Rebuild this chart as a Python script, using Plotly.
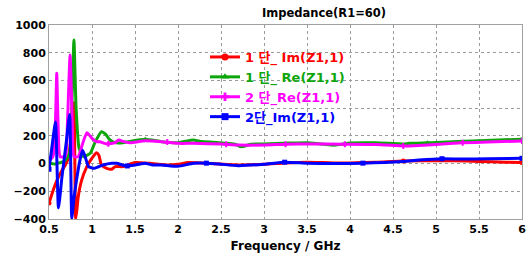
import plotly.graph_objects as go

# ---------------- data ----------------
red_f = [0.5, 0.55, 0.6, 0.65, 0.69, 0.72, 0.75, 0.775, 0.79, 0.80, 0.81, 0.825, 0.84, 0.88, 0.94,
         1.0, 1.05, 1.08, 1.11, 1.17, 1.23, 1.27, 1.36, 1.5, 1.67, 1.89, 2.0, 2.12, 2.4, 2.7, 3.0,
         3.25, 3.5, 3.8, 4.0, 4.3, 4.62, 4.9, 5.2, 5.5, 5.8, 6.0]
red_v = [-285, -190, -110, -50, -10, 30, 150, 350, 440, 50, -400, -330, -239, -120, -22,
         39, 78, 60, -10, -34, -41, -22, -22, 7, 2, -10, -5, 7, 0, -10, -5,
         5, 10, 5, 5, 10, 19, 20, 21, 15, 10, 7]

green_f = [0.5, 0.57, 0.62, 0.67, 0.72, 0.74, 0.765, 0.79, 0.815, 0.85, 0.9, 0.98, 1.04, 1.11,
           1.16, 1.21, 1.27, 1.36, 1.42, 1.62, 1.81, 2.0, 2.18, 2.25, 2.52, 2.66, 2.74, 2.85,
           2.99, 3.3, 3.5, 3.81, 4.0, 4.3, 4.62, 4.69, 4.9, 5.0, 5.5, 6.0]
green_v = [2, -3, 5, 14, 50, 75, 400, 892, 400, 110, 50, 75, 160, 230,
           210, 170, 151, 151, 158, 175, 158, 151, 170, 161, 148, 140, 122, 140,
           141, 148, 151, 134, 148, 150, 141, 146, 150, 152, 165, 176]

mag_f = [0.5, 0.53, 0.55, 0.575, 0.59, 0.605, 0.63, 0.69, 0.715, 0.745, 0.77, 0.79, 0.84, 0.88,
         0.94, 1.0, 1.05, 1.09, 1.17, 1.27, 1.31, 1.36, 1.44, 1.62, 1.81, 2.0, 2.18, 2.5, 2.7,
         3.0, 3.26, 3.5, 3.94, 4.3, 4.62, 4.69, 5.0, 5.31, 5.6, 6.0]
mag_v = [31, 38, 60, 300, 651, 300, 50, 50, 300, 784, 300, 50, 50, 122,
         223, 182, 158, 158, 141, 151, 170, 160, 151, 165, 158, 146, 146, 141, 134,
         134, 140, 141, 140, 138, 127, 127, 138, 150, 155, 163]

blue_f = [0.5, 0.53, 0.575, 0.61, 0.65, 0.7, 0.74, 0.765, 0.79, 0.82, 0.86, 0.89, 0.92, 0.96,
          1.03, 1.13, 1.23, 1.29, 1.35, 1.42, 1.56, 1.62, 1.7, 1.81, 2.0, 2.18, 2.33, 2.5, 2.7,
          3.0, 3.24, 3.5, 3.8, 4.15, 4.4, 4.62, 4.8, 5.07, 5.3, 5.6, 6.0]
blue_v = [-41, 100, 300, -320, -100, 150, 355, -395, -250, -119, 25, 96, 50, -22,
          -34, -10, 2, 2, -10, -17, -3, 2, -10, -10, -20, 2, 3, -5, -15,
          -5, 10, 3, 0, 3, 8, 15, 25, 35, 33, 35, 38]

red_mf, red_mv = [0.5, 4.62, 6.0], [-285, 19, 7]
green_mf, green_mv = [1.62, 2.74, 3.81, 4.9, 6.0], [175, 122, 134, 150, 176]
mag_mf = [0.5, 1.19, 1.875, 2.56, 3.25, 3.94, 4.62, 5.31, 6.0]
mag_mv = [31, 143, 155, 140, 140, 140, 127, 150, 163]
blue_mf = [0.5, 1.41, 2.33, 3.24, 4.15, 5.07, 6.0]
blue_mv = [-41, -17, 3, 10, 3, 35, 38]

names = ["1 단_ Im(Z1,1)", "1 단_ Re(Z1,1)", "2 단_Re(Z1,1)", "2단_Im(Z1,1)"]
colors = ["#FF0000", "#0DA60D", "#FF00FF", "#0000FF"]
symbols = ["circle", "triangle-up", "cross", "square"]

x_ticks = [0.5, 1, 1.5, 2, 2.5, 3, 3.5, 4, 4.5, 5, 5.5, 6]
x_ticklabels = ["0.5", "1", "1.5", "2", "2.5", "3", "3.5", "4", "4.5", "5", "5.5", "6"]
y_ticks = [-400, -200, 0, 200, 400, 600, 800, 1000]

series = [
    (red_f, red_v, red_mf, red_mv),
    (green_f, green_v, green_mf, green_mv),
    (mag_f, mag_v, mag_mf, mag_mv),
    (blue_f, blue_v, blue_mf, blue_mv),
]

FONT = "DejaVu Sans, Noto Sans CJK KR, sans-serif"
fig = go.Figure()

for (f, v, mf, mv), nm, c, s in zip(series, names, colors, symbols):
    fig.add_trace(go.Scatter(x=f, y=v, mode="lines",
                             line=dict(color=c, width=3, shape="spline", smoothing=0.5),
                             showlegend=False, hoverinfo="skip"))
    fig.add_trace(go.Scatter(x=mf, y=mv, mode="markers",
                             marker=dict(color=c, symbol=s, size=5, line=dict(width=0)),
                             showlegend=False, hoverinfo="skip"))

for nm, c, s in zip(names, colors, symbols):
    fig.add_trace(go.Scatter(x=[None], y=[None], mode="lines+markers",
                             name=f"<span style='color:{c}'>{nm}</span>",
                             line=dict(color=c, width=3),
                             marker=dict(color=c, symbol=s, size=7)))

grid = dict(showgrid=True, gridcolor="#9a9a9a", griddash="dot", gridwidth=1,
            showline=True, linecolor="#a0a0a0", linewidth=1, mirror=True,
            zeroline=False, ticks="", automargin=False,
            tickfont=dict(size=11, color="black", weight="bold"))

fig.update_layout(
    width=532, height=259,
    margin=dict(l=49, r=10, t=25, b=40),
    paper_bgcolor="white", plot_bgcolor="white",
    font=dict(family=FONT, color="black"),
    title=dict(text="Impedance(R1=60)", x=324 / 532, xref="container", xanchor="center",
               y=1 - 13 / 259, yref="container", yanchor="middle",
               font=dict(size=11.5, weight="bold", color="black")),
    xaxis=dict(range=[0.5, 6], tickvals=x_ticks, ticktext=x_ticklabels,
               title=dict(text="Frequency / GHz", font=dict(size=12, weight="bold"), standoff=6), **grid),
    yaxis=dict(range=[-400, 1000], tickvals=y_ticks, **grid),
    legend=dict(x=(205 - 49) / 473, xanchor="left", y=1 - (42 - 25) / 194, yanchor="top",
                bgcolor="rgba(0,0,0,0)", font=dict(size=13, weight="bold"),
                itemwidth=30, tracegroupgap=0),
    showlegend=True,
)

fig.write_html("out.html", config={"displayModeBar": False},
               post_script="document.body.style.margin='0';document.body.style.overflow='hidden';")
